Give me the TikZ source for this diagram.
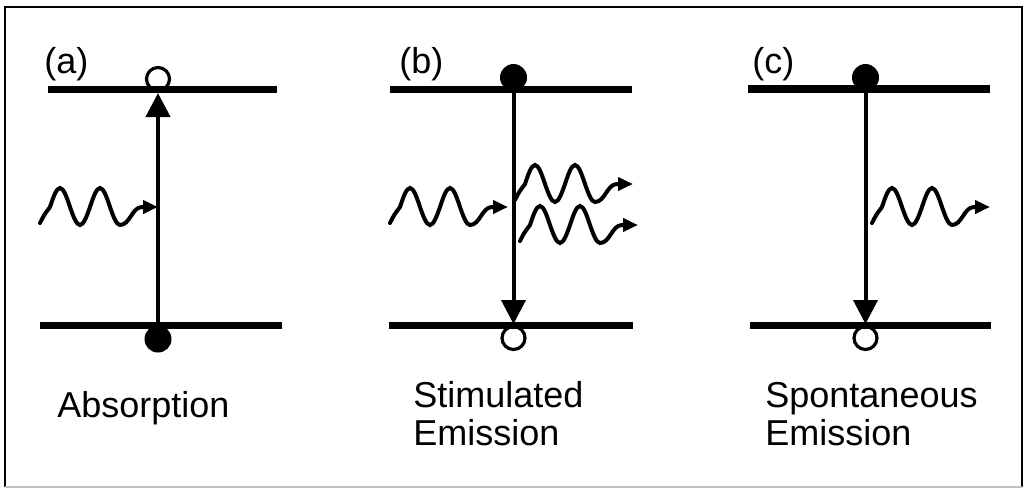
\documentclass[tikz,border=0pt]{standalone}
\usepackage{fontspec}
\setmainfont{Liberation Sans}
\usetikzlibrary{arrows.meta}
\begin{document}
\begin{tikzpicture}[x=0.5pt,y=-0.5pt,
  level/.style={line width=3.6pt},
  trans/.style={line width=2pt,-{Triangle[length=12pt,width=12pt]}},
  wave/.style={line width=2pt,line cap=round,-{Triangle[length=7.5pt,width=6.5pt]}},
  hole/.style={circle,draw,line width=1.6pt,fill=white,minimum size=11.5pt,inner sep=0pt},
  electron/.style={circle,fill=black,minimum size=13.5pt,inner sep=0pt},
  lbl/.style={font=\fontsize{18}{20}\selectfont,anchor=base west,inner sep=0pt},
  captext/.style={font=\fontsize{18}{19}\selectfont,anchor=base west,inner sep=0pt},
  frame/.style={line width=1.3pt},
  photon/.pic={\draw[wave] (0,0) .. controls (4,-8) .. (10,-16) sin (20,-35) cos (30,-16) sin (40,2) cos (50,-16) sin (60,-35) cos (70,-16) sin (80,2) .. controls (90,2) and (92,-16) .. (102,-16) -- (118,-16);}
]
\useasboundingbox (0,0) rectangle (1024,489);
% frame
\draw[frame] (5,487) -- (5,7) -- (1022,7) -- (1022,487);
\draw[gray!50,line width=0.8pt] (5,487) -- (1022,487);

% ---------- (a) absorption ----------
\node[hole] (a-hole) at (158,79) {};
\node[electron] (a-el) at (158,339) {};
\coordinate (a-up-l) at (48,89.5);  \coordinate (a-up-r) at (277,89.5);
\coordinate (a-lo-l) at (40,325.5); \coordinate (a-lo-r) at (282,325.5);
\draw[level] (a-up-l) -- (a-up-r);
\draw[level] (a-lo-l) -- (a-lo-r);
\coordinate (a-tip) at (158,93);
\draw[trans] (a-el.center) -- (a-tip);
\pic at (40,223) {photon};
\node[lbl] (a-lab) at (44,73) {(a)};
\node[captext] (a-cap) at (57,417) {Absorption};

% ---------- (b) stimulated emission ----------
\node[electron] (b-el) at (513.5,77.5) {};
\node[hole] (b-hole) at (513.5,338) {};
\coordinate (b-up-l) at (390,89.5);  \coordinate (b-up-r) at (632,89.5);
\coordinate (b-lo-l) at (389,325.5); \coordinate (b-lo-r) at (633,325.5);
\draw[level] (b-up-l) -- (b-up-r);
\draw[level] (b-lo-l) -- (b-lo-r);
\coordinate (b-tip) at (513.5,324);
\draw[trans] (b-el.center) -- (b-tip);
\pic at (390,223) {photon};
\pic at (515,200) {photon};
\pic at (520,241) {photon};
\node[lbl] (b-lab) at (399,73) {(b)};
\node[captext] (b-cap1) at (413,407) {Stimulated};
\node[captext] (b-cap2) at (413,445) {Emission};

% ---------- (c) spontaneous emission ----------
\node[electron] (c-el) at (865.5,77.5) {};
\node[hole] (c-hole) at (865.5,338) {};
\coordinate (c-up-l) at (748,89);    \coordinate (c-up-r) at (990,89);
\coordinate (c-lo-l) at (750,325.5); \coordinate (c-lo-r) at (991,325.5);
\draw[level] (c-up-l) -- (c-up-r);
\draw[level] (c-lo-l) -- (c-lo-r);
\coordinate (c-tip) at (865.5,324);
\draw[trans] (c-el.center) -- (c-tip);
\pic at (872,223) {photon};
\node[lbl] (c-lab) at (752,73) {(c)};
\node[captext] (c-cap1) at (765,407) {Spontaneous};
\node[captext] (c-cap2) at (765,445) {Emission};
\end{tikzpicture}
\end{document}
